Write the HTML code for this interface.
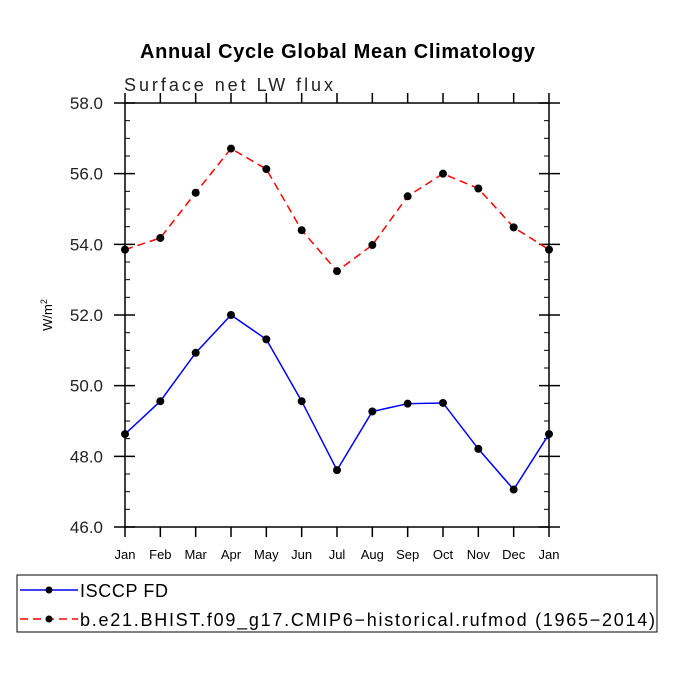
<!DOCTYPE html>
<html><head><meta charset="utf-8"><style>
body{margin:0;background:#fff;width:675px;height:675px;overflow:hidden}
svg text{font-family:"Liberation Sans",sans-serif}
</style></head><body>
<svg id="chart" width="675" height="675" xmlns="http://www.w3.org/2000/svg">
<text x="140" y="58" font-size="20" font-weight="bold" textLength="395">Annual Cycle Global Mean Climatology</text>
<text x="124" y="91" font-size="18" fill="#222" textLength="209">Surface net LW flux</text>
<text transform="translate(52,315) rotate(-90)" text-anchor="middle" font-size="13">W/m<tspan font-size="9" dy="-5">2</tspan></text>
<g id="axes"></g>
<g id="series"></g>
<g>
<rect x="17" y="575" width="640" height="57" fill="none" stroke="#000" stroke-width="1"/>
<line x1="20" y1="590" x2="78" y2="590" stroke="#00f" stroke-width="1.5"/>
<circle cx="49" cy="590" r="3.5" fill="#000"/>
<text x="80" y="597" font-size="18" textLength="88">ISCCP FD</text>
<line x1="20" y1="619" x2="78" y2="619" stroke="#f00" stroke-width="1.5" stroke-dasharray="8,5"/>
<circle cx="49" cy="619" r="3.5" fill="#000"/>
<text x="80" y="626" font-size="18" textLength="575">b.e21.BHIST.f09_g17.CMIP6−historical.rufmod (1965−2014)</text>
</g>
</svg>
<script>
const months = ["Jan","Feb","Mar","Apr","May","Jun","Jul","Aug","Sep","Oct","Nov","Dec","Jan"];
const isccp = [48.63,49.56,50.93,52.0,51.31,49.56,47.61,49.27,49.49,49.51,48.21,47.06,48.63];
const model = [53.85,54.18,55.46,56.71,56.13,54.40,53.24,53.98,55.36,56.0,55.58,54.48,53.85];
const yTicks = [46,48,50,52,54,56,58];
const yTickLabels = ["46.0","48.0","50.0","52.0","54.0","56.0","58.0"];
const X0=125,X1=549,Y0=527,Y1=103,YMIN=46,YMAX=58;
function xs(i){return X0+(X1-X0)*i/(months.length-1);}
function ys(v){return Y0-(v-YMIN)/(YMAX-YMIN)*(Y0-Y1);}
const NS="http://www.w3.org/2000/svg";
function mk(tag,attrs,parent){const e=document.createElementNS(NS,tag);for(const k in attrs)e.setAttribute(k,attrs[k]);parent.appendChild(e);return e;}
const ax=document.getElementById('axes');
const frame=mk('rect',{x:X0,y:Y1,width:X1-X0,height:Y0-Y1,fill:'none',stroke:'#000','stroke-width':1.5},ax);


months.forEach((m,i)=>{
  const x=xs(i);
  mk('line',{x1:x,y1:Y0,x2:x,y2:Y0+10,stroke:'#000','stroke-width':1.5},ax);
  mk('line',{x1:x,y1:Y1,x2:x,y2:Y1-10,stroke:'#000','stroke-width':1.5},ax);
  const t=mk('text',{x:x,y:Y0+32,'text-anchor':'middle','font-size':13},ax);
  t.textContent=m;
  
  
});
for(let v=YMIN;v<=YMAX+1e-6;v+=0.5){
  const y=ys(v);const major=Math.abs(v-Math.round(v/2)*2)<1e-6;
  if(major){
    mk('line',{x1:X0-11,y1:y,x2:X0+10,y2:y,stroke:'#000','stroke-width':1.5},ax);
    mk('line',{x1:X1-10,y1:y,x2:X1+11,y2:y,stroke:'#000','stroke-width':1.5},ax);
  }else{
    mk('line',{x1:X0,y1:y,x2:X0+5,y2:y,stroke:'#000','stroke-width':1},ax);
    mk('line',{x1:X1-5,y1:y,x2:X1,y2:y,stroke:'#000','stroke-width':1},ax);
  }
}
yTicks.forEach((v,i)=>{
  const t=mk('text',{x:X0-22,y:ys(v)+6,'text-anchor':'end','font-size':17,fill:'#222'},ax);
  t.textContent=yTickLabels[i];
  
  
});
const sg=document.getElementById('series');
function drawSeries(vals,color,dash,name){
  const pts=vals.map((v,i)=>xs(i)+','+ys(v)).join(' ');
  const pl=mk('polyline',{points:pts,fill:'none',stroke:color,'stroke-width':1.5},sg);
  if(dash)pl.setAttribute('stroke-dasharray',dash);
  
  
  vals.forEach((v,i)=>{
    const c=mk('circle',{cx:xs(i),cy:ys(v),r:4,fill:'#000'},sg);
    
    
  });
}
drawSeries(model,'#f00','8,5','model');
drawSeries(isccp,'#00f',null,'isccp');
</script>
</body></html>
